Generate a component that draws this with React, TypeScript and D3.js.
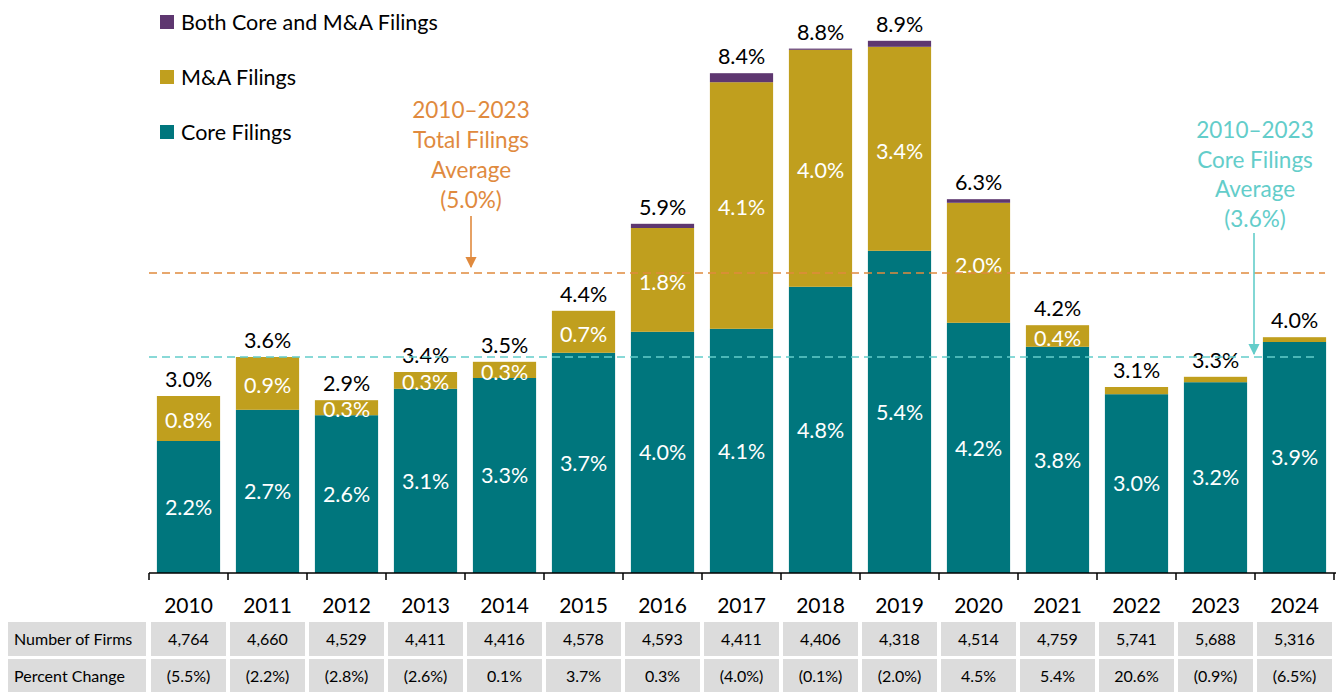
import React from "react";
import * as d3 from "d3";

const years = ["2010","2011","2012","2013","2014","2015","2016","2017","2018","2019","2020","2021","2022","2023","2024"];
const coreValues = [2.2, 2.72, 2.63, 3.07, 3.25, 3.67, 4.02, 4.07, 4.77, 5.37, 4.17, 3.77, 2.98, 3.18, 3.85];
const maValues = [0.75, 0.88, 0.25, 0.28, 0.27, 0.7, 1.73, 4.11, 3.95, 3.4, 2.0, 0.36, 0.12, 0.09, 0.08];
const bothValues = [0, 0, 0, 0, 0, 0, 0.07, 0.15, 0.02, 0.1, 0.06, 0, 0, 0, 0];
const coreLabels = ["2.2%","2.7%","2.6%","3.1%","3.3%","3.7%","4.0%","4.1%","4.8%","5.4%","4.2%","3.8%","3.0%","3.2%","3.9%"];
const maLabels = ["0.8%","0.9%","0.3%","0.3%","0.3%","0.7%","1.8%","4.1%","4.0%","3.4%","2.0%","0.4%","","",""];
const totalLabels = ["3.0%","3.6%","2.9%","3.4%","3.5%","4.4%","5.9%","8.4%","8.8%","8.9%","6.3%","4.2%","3.1%","3.3%","4.0%"];
const firms = ["4,764","4,660","4,529","4,411","4,416","4,578","4,593","4,411","4,406","4,318","4,514","4,759","5,741","5,688","5,316"];
const pctChange = ["(5.5%)","(2.2%)","(2.8%)","(2.6%)","0.1%","3.7%","0.3%","(4.0%)","(0.1%)","(2.0%)","4.5%","5.4%","20.6%","(0.9%)","(6.5%)"];
const totalAvg = 5.0;
const coreAvg = 3.6;
const legendItems = [
  { label: "Both Core and M&A Filings", color: "#5E3770" },
  { label: "M&A Filings", color: "#C09F1E" },
  { label: "Core Filings", color: "#00767D" },
];
const totalAvgText = ["2010\u20132023", "Total Filings", "Average", "(5.0%)"];
const coreAvgText = ["2010\u20132023", "Core Filings", "Average", "(3.6%)"];

const FONT = "Lato, 'DejaVu Sans', sans-serif";
const CORE = "#00767D";
const MA = "#C09F1E";
const BOTH = "#5E3770";
const ORANGE = "#E08A3E";
const LTEAL = "#63CDCA";

export default function App() {
  const W = 1341, H = 692;
  const x = d3.scaleBand<string>().domain(years).range([149, 1334]).paddingInner(0.2).paddingOuter(0.1);
  const y = d3.scaleLinear().domain([0, 9]).range([573, 573 - 9 * 60]);
  const step = x.step();
  const bw = x.bandwidth();
  const leftEdge = (yr: string) => (x(yr) as number) - step * 0.1;

  return (
    <div style={{ position: "absolute", left: 0, top: 0 }}>
      <svg width={W} height={H} style={{ display: "block", fontFamily: FONT }}>
        <defs>
          <marker id="arrO" viewBox="0 0 10 10" refX="9" refY="5" markerWidth="7" markerHeight="7" orient="auto">
            <path d="M0,0 L10,5 L0,10 z" fill={ORANGE} />
          </marker>
          <marker id="arrT" viewBox="0 0 10 10" refX="9" refY="5" markerWidth="7" markerHeight="7" orient="auto">
            <path d="M0,0 L10,5 L0,10 z" fill={LTEAL} />
          </marker>
        </defs>

        {/* Legend */}
        {legendItems.map((it, i) => (
          <g key={it.label} transform={`translate(160, ${15 + i * 55})`}>
            <rect x={0} y={0} width={14} height={14} fill={it.color} />
            <text x={21} y={7} dy="0.36em" fontSize={21.5} fill="#000">{it.label}</text>
          </g>
        ))}

        {/* Bars */}
        {years.map((yr, i) => {
          const x0 = x(yr) as number;
          const c = coreValues[i], m = maValues[i], b = bothValues[i];
          const t = c + m + b;
          return (
            <g key={yr}>
              <rect x={x0} y={y(c)} width={bw} height={y(0) - y(c)} fill={CORE} />
              <rect x={x0} y={y(c + m)} width={bw} height={y(c) - y(c + m)} fill={MA} />
              {b > 0 && <rect x={x0} y={y(t)} width={bw} height={y(c + m) - y(t)} fill={BOTH} />}
              <text x={x0 + bw / 2} y={(y(0) + y(c)) / 2} dy="0.36em" textAnchor="middle" fontSize={21.5} fill="#fff">{coreLabels[i]}</text>
              {maLabels[i] && (
                <text x={x0 + bw / 2} y={(y(c) + y(c + m)) / 2 + 2} dy="0.36em" textAnchor="middle" fontSize={21.5} fill="#fff">{maLabels[i]}</text>
              )}
              <text x={x0 + bw / 2} y={y(t) - 9} textAnchor="middle" fontSize={21.5} fill="#000">{totalLabels[i]}</text>
            </g>
          );
        })}

        {/* Average lines */}
        <line x1={149} x2={1325} y1={y(totalAvg)} y2={y(totalAvg)} stroke={ORANGE} strokeWidth={1.6} strokeDasharray="8,5" />
        <line x1={149} x2={1318} y1={y(coreAvg)} y2={y(coreAvg)} stroke={LTEAL} strokeWidth={1.6} strokeDasharray="8,5" />

        {/* Annotations */}
        {totalAvgText.map((t, i) => (
          <text key={"o" + i} x={471} y={110 + i * 30} dy="0.36em" textAnchor="middle" fontSize={22.5} fill={ORANGE}>{t}</text>
        ))}
        <line x1={471} x2={471} y1={216} y2={y(totalAvg) - 6} stroke={ORANGE} strokeWidth={1.6} markerEnd="url(#arrO)" />
        {coreAvgText.map((t, i) => (
          <text key={"t" + i} x={1255} y={130 + i * 29.5} dy="0.36em" textAnchor="middle" fontSize={22.5} fill={LTEAL}>{t}</text>
        ))}
        <line x1={1254} x2={1254} y1={233} y2={y(coreAvg) - 3} stroke={LTEAL} strokeWidth={1.6} markerEnd="url(#arrT)" />

        {/* Axis */}
        <line x1={149} x2={1336} y1={573} y2={573} stroke="#000" strokeWidth={1.5} />
        {years.map((yr) => (
          <line key={"tk" + yr} x1={leftEdge(yr)} x2={leftEdge(yr)} y1={573} y2={580} stroke="#000" strokeWidth={1.5} />
        ))}
        <line x1={1334} x2={1334} y1={573} y2={580} stroke="#000" strokeWidth={1.5} />
        {years.map((yr) => (
          <text key={"yl" + yr} x={(x(yr) as number) + bw / 2} y={605} dy="0.36em" textAnchor="middle" fontSize={21} fill="#000">{yr}</text>
        ))}

        {/* Table */}
        <rect x={8} y={622} width={138} height={34} fill="#DCDCDC" />
        <rect x={8} y={659} width={138} height={33} fill="#DCDCDC" />
        <text x={14} y={639} dy="0.36em" fontSize={16} fill="#000">Number of Firms</text>
        <text x={14} y={676} dy="0.36em" fontSize={16} fill="#000">Percent Change</text>
        {years.map((yr, i) => {
          const l = leftEdge(yr);
          return (
            <g key={"tb" + yr}>
              <rect x={l + 2} y={622} width={step - 4} height={34} fill="#DCDCDC" />
              <rect x={l + 2} y={659} width={step - 4} height={33} fill="#DCDCDC" />
              <text x={l + step / 2} y={639} dy="0.36em" textAnchor="middle" fontSize={16} fill="#000">{firms[i]}</text>
              <text x={l + step / 2} y={676} dy="0.36em" textAnchor="middle" fontSize={16} fill="#000">{pctChange[i]}</text>
            </g>
          );
        })}
      </svg>
    </div>
  );
}
